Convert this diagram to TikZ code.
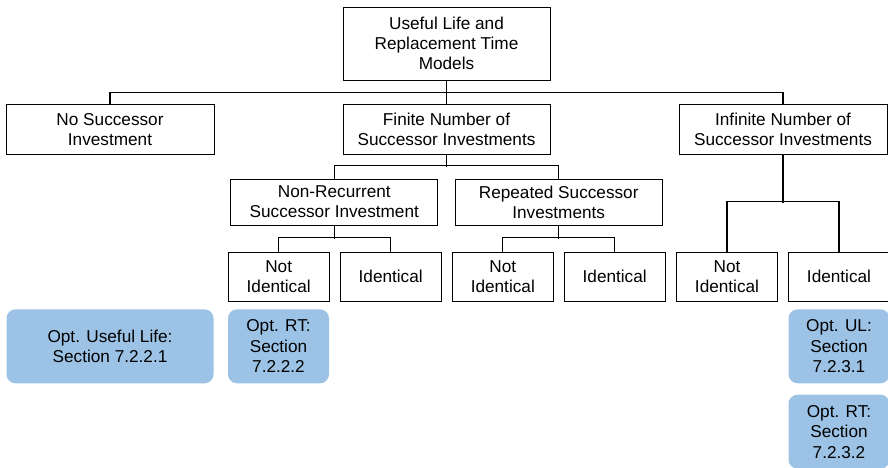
\documentclass[tikz,border=0pt]{standalone}
\usepackage{fontspec}
\setmainfont{Liberation Sans}
\definecolor{optblue}{RGB}{156,195,230}
\begin{document}
\begin{tikzpicture}[x=1pt,y=-1pt,
  box/.style={draw=black,line width=1pt,fill=white,rectangle,inner sep=0pt,
    align=center,font=\fontsize{17.2}{20.3}\selectfont},
  optbox/.style={fill=optblue,rectangle,rounded corners=9pt,inner sep=0pt,
    align=center,font=\fontsize{17.2}{20.6}\selectfont},
  link/.style={line width=1.1pt}]
\useasboundingbox (0,0) rectangle (888,467);

% top level
\node[box,minimum width=207pt,minimum height=73pt] (root) at (446.5,43.5)
  {Useful Life and\\Replacement Time\\Models};

% second level
\node[box,minimum width=208pt,minimum height=50pt] (nosucc) at (110,129.3)
  {No Successor\\Investment};
\node[box,minimum width=207pt,minimum height=50pt] (fin) at (446.5,129.3)
  {Finite Number of\\Successor Investments};
\node[box,minimum width=208pt,minimum height=50pt] (inf) at (783,129.3)
  {Infinite Number of\\Successor Investments};

% third level
\node[box,minimum width=207pt,minimum height=46pt] (nonrec) at (334.3,202)
  {Non-Recurrent\\Successor Investment};
\node[box,minimum width=207pt,minimum height=46pt] (rep) at (558.7,202)
  {Repeated Successor\\Investments};

% fourth level
\node[box,minimum width=101pt,minimum height=49pt] (ni1) at (278.7,276.8) {Not\\Identical};
\node[box,minimum width=101pt,minimum height=49pt] (id1) at (390.7,276.8) {Identical};
\node[box,minimum width=101pt,minimum height=49pt] (ni2) at (502.8,276.8) {Not\\Identical};
\node[box,minimum width=101pt,minimum height=49pt] (id2) at (614.7,276.8) {Identical};
\node[box,minimum width=101pt,minimum height=49pt] (ni3) at (727,276.8) {Not\\Identical};
\node[box,minimum width=101pt,minimum height=49pt] (id3) at (839,276.8) {Identical};

% result boxes
\node[optbox,minimum width=207pt,minimum height=74pt] (ul1) at (110,346.3)
  {Opt. Useful Life:\\Section 7.2.2.1};
\node[optbox,minimum width=101pt,minimum height=74pt] (rt1) at (278.5,346.3)
  {Opt. RT:\\Section\\7.2.2.2};
\node[optbox,minimum width=101pt,minimum height=74pt] (ul2) at (839,346.3)
  {Opt. UL:\\Section\\7.2.3.1};
\node[optbox,minimum width=101pt,minimum height=74pt] (rt2) at (839,431.7)
  {Opt. RT:\\Section\\7.2.3.2};

% connectors
\draw[link] (root.south) -- (fin.north);
\draw[link] (nosucc.north) -- ++(0,-11.6) -| (inf.north);

\draw[link] (fin.south) -- ++(0,11.7);
\draw[link] (nonrec.north) -- ++(0,-13.3) -| (rep.north);

\draw[link] (nonrec.south) -- ++(0,13.3);
\draw[link] (ni1.north) -- ++(0,-14) -| (id1.north);

\draw[link] (rep.south) -- ++(0,13.3);
\draw[link] (ni2.north) -- ++(0,-14) -| (id2.north);

\draw[link] (inf.south) -- ++(0,47.7);
\draw[link] (ni3.north) -- ++(0,-50.6) -| (id3.north);
\end{tikzpicture}
\end{document}
